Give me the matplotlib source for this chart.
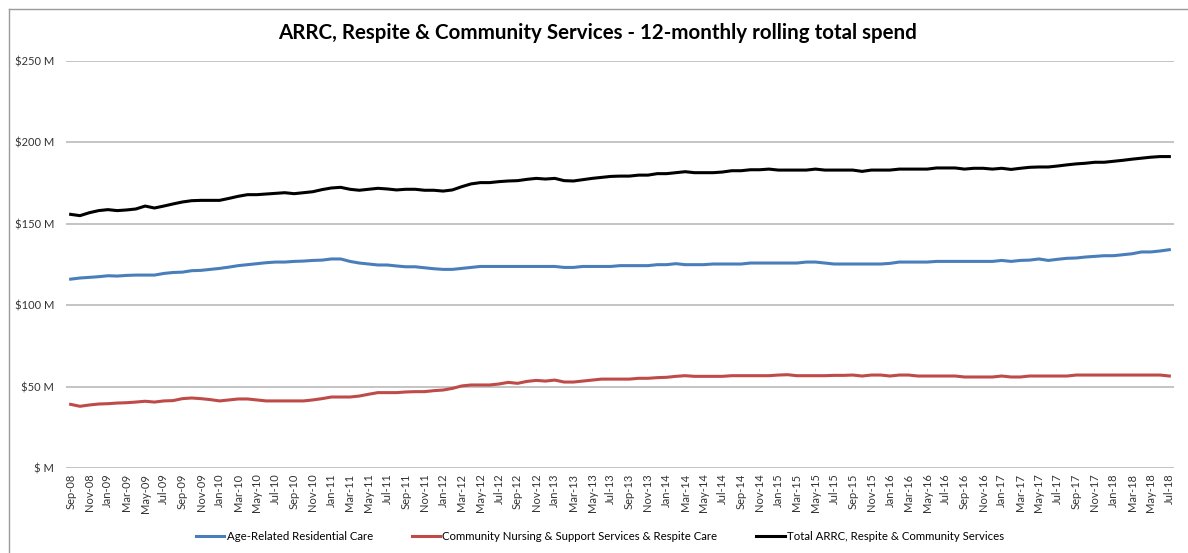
import matplotlib
matplotlib.use("Agg")
import matplotlib.pyplot as plt
from matplotlib.lines import Line2D
import pandas as pd
import numpy as np

plt.rcParams['font.family'] = ['Lato', 'DejaVu Sans']

months = list(pd.date_range('2008-09-01', '2018-07-01', freq='MS').strftime('%b-%y'))

arrc = [
    116.0, 116.7, 117.1, 117.5, 118.1, 117.9, 118.3, 118.5, 118.5, 118.5,
    119.5, 120.1, 120.3, 121.2, 121.4, 122.0, 122.6, 123.4, 124.3, 124.9,
    125.5, 126.1, 126.5, 126.5, 126.9, 127.1, 127.5, 127.7, 128.4, 128.4,
    126.9, 125.9, 125.3, 124.7, 124.7, 124.1, 123.6, 123.6, 123.0, 122.4,
    122.0, 122.0, 122.6, 123.2, 123.8, 123.8, 123.8, 123.8, 123.8, 123.8,
    123.8, 123.8, 123.8, 123.2, 123.2, 123.8, 123.8, 123.8, 123.8, 124.3,
    124.3, 124.3, 124.3, 124.9, 124.9, 125.5, 124.9, 124.9, 124.9, 125.3,
    125.3, 125.3, 125.3, 125.9, 125.9, 125.9, 125.9, 125.9, 125.9, 126.5,
    126.5, 125.9, 125.3, 125.3, 125.3, 125.3, 125.3, 125.3, 125.7, 126.5,
    126.5, 126.5, 126.5, 126.9, 126.9, 126.9, 126.9, 126.9, 126.9, 126.9,
    127.5, 126.9, 127.5, 127.7, 128.4, 127.5, 128.2, 128.8, 129.0, 129.6,
    130.0, 130.4, 130.4, 131.0, 131.6, 132.7, 132.7, 133.3, 134.1,
]

community = [
    39.1, 37.9, 38.7, 39.3, 39.5, 39.9, 40.1, 40.5, 41.0, 40.5,
    41.2, 41.4, 42.6, 43.0, 42.6, 42.0, 41.2, 41.8, 42.4, 42.4,
    41.8, 41.2, 41.2, 41.2, 41.2, 41.2, 41.8, 42.6, 43.6, 43.6,
    43.6, 44.2, 45.3, 46.3, 46.3, 46.3, 46.7, 46.9, 46.9, 47.5,
    47.9, 48.9, 50.4, 51.0, 51.0, 51.0, 51.6, 52.6, 52.0, 53.2,
    53.8, 53.4, 54.0, 52.8, 52.8, 53.4, 54.0, 54.6, 54.6, 54.6,
    54.6, 55.1, 55.1, 55.5, 55.7, 56.3, 56.7, 56.3, 56.3, 56.3,
    56.3, 56.7, 56.7, 56.7, 56.7, 56.7, 57.1, 57.3, 56.7, 56.7,
    56.7, 56.7, 56.9, 56.9, 57.1, 56.5, 57.1, 57.1, 56.5, 57.1,
    57.1, 56.5, 56.5, 56.5, 56.5, 56.5, 55.9, 55.9, 55.9, 55.9,
    56.5, 55.9, 55.9, 56.5, 56.5, 56.5, 56.5, 56.5, 57.1, 57.1,
    57.1, 57.1, 57.1, 57.1, 57.1, 57.1, 57.1, 57.1, 56.5,
]

total = [
    155.8, 155.0, 156.8, 158.1, 158.7, 158.1, 158.5, 159.1, 160.9, 159.7,
    160.9, 162.2, 163.4, 164.2, 164.4, 164.4, 164.4, 165.6, 166.9, 167.9,
    167.9, 168.3, 168.7, 169.1, 168.5, 169.1, 169.7, 171.0, 172.0, 172.4,
    171.2, 170.6, 171.2, 171.8, 171.4, 170.8, 171.2, 171.2, 170.6, 170.6,
    170.1, 170.8, 172.8, 174.5, 175.3, 175.3, 175.9, 176.3, 176.5, 177.3,
    177.9, 177.5, 177.9, 176.5, 176.3, 177.1, 177.9, 178.5, 179.1, 179.3,
    179.3, 179.9, 179.9, 180.8, 180.8, 181.4, 182.0, 181.4, 181.4, 181.4,
    181.8, 182.6, 182.6, 183.2, 183.2, 183.6, 183.0, 183.0, 183.0, 183.0,
    183.6, 183.0, 183.0, 183.0, 183.0, 182.2, 183.0, 183.0, 183.0, 183.6,
    183.6, 183.6, 183.6, 184.3, 184.3, 184.3, 183.6, 184.1, 184.1, 183.6,
    184.1, 183.4, 184.1, 184.7, 184.9, 184.9, 185.5, 186.2, 186.8, 187.2,
    187.8, 187.8, 188.4, 189.0, 189.7, 190.3, 190.9, 191.3, 191.3,
]

series_names = [
    'Age-Related Residential Care',
    'Community Nursing & Support Services & Respite Care',
    'Total ARRC, Respite & Community Services',
]
series_colors = ['#4A7EBB', '#BE4B48', '#000000']
y_ticks = [0, 50, 100, 150, 200, 250]
y_labels = ['$ M', '$50 M', '$100 M', '$150 M', '$200 M', '$250 M']
title = 'ARRC, Respite & Community Services - 12-monthly rolling total spend'

W, H = 1188, 553
fig = plt.figure(figsize=(W / 100, H / 100), dpi=100)
ax = fig.add_axes([66 / W, 1 - 468 / H, (1174 - 66) / W, (468 - 61) / H])

x = np.arange(len(months))
for vals, c in zip([arrc, community, total], series_colors):
    ax.plot(x, vals, color=c, lw=2.2, solid_joinstyle='round', zorder=3)

ax.set_xlim(-0.5, len(months) - 0.5)
ax.set_ylim(0, 250)
ax.set_yticks(y_ticks)
ax.set_yticklabels(y_labels, fontsize=8, color='#333333')
ax.set_xticks(x[::2])
ax.set_xticklabels(months[::2], rotation=90, fontsize=8, color='#333333')
ax.tick_params(axis='both', length=0)
ax.tick_params(axis='y', pad=8.5)
ax.tick_params(axis='x', pad=4)
ax.grid(axis='y', color='#BFBFBF', lw=1.3, zorder=0)
ax.grid(axis='x', visible=False)
for s in ['top', 'right', 'left', 'bottom']:
    ax.spines[s].set_visible(False)

fig.text(0.5 + 4 / W, 1 - 33 / H, title, ha='center', va='center', fontsize=14.8,
         fontweight='bold', color='#000000')

handles = [Line2D([0], [0], color=c, lw=2.2) for c in series_colors]
fig.legend(handles, series_names, loc='center', bbox_to_anchor=(0.505, 1 - 536 / H),
           ncol=3, frameon=False, fontsize=8.2, handlelength=2.5, handletextpad=0.2,
           columnspacing=3.4)

# chart-area border (left and top)
fig.add_artist(Line2D([9 / W, 9 / W], [0, 1 - 9 / H], transform=fig.transFigure,
                      color='#9A9A9A', lw=1.0))
fig.add_artist(Line2D([9 / W, 1], [1 - 9 / H, 1 - 9 / H], transform=fig.transFigure,
                      color='#9A9A9A', lw=1.0))

fig.savefig('out.png', dpi=100)
